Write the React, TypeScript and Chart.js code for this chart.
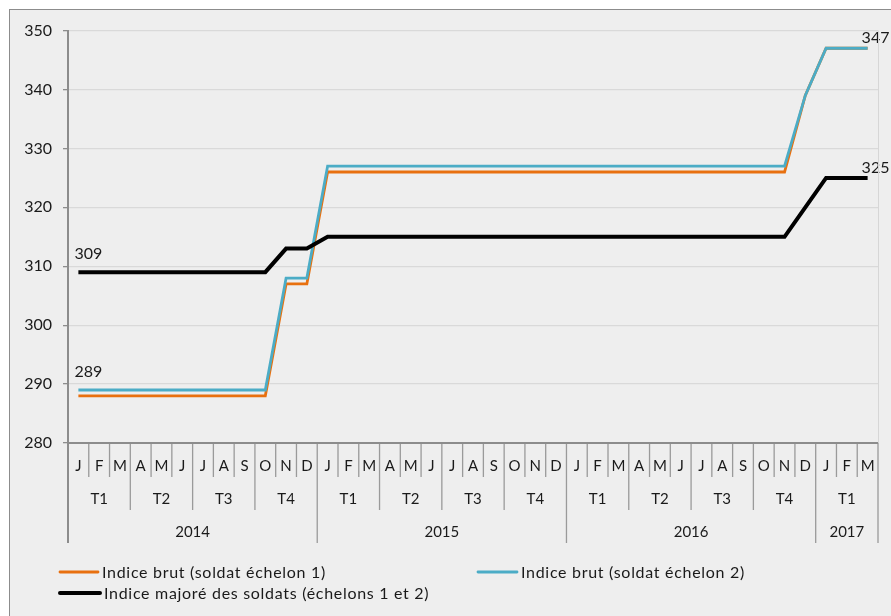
import React, { useEffect, useRef } from "react";
import { Chart, registerables } from "chart.js";

Chart.register(...registerables);

const months = [
  "J", "F", "M", "A", "M", "J", "J", "A", "S", "O", "N", "D",
  "J", "F", "M", "A", "M", "J", "J", "A", "S", "O", "N", "D",
  "J", "F", "M", "A", "M", "J", "J", "A", "S", "O", "N", "D",
  "J", "F", "M",
];
const quarterLabels = ["T1", "T2", "T3", "T4", "T1", "T2", "T3", "T4", "T1", "T2", "T3", "T4", "T1"];
const quarterSizes = [3, 3, 3, 3, 3, 3, 3, 3, 3, 3, 3, 3, 3];
const yearLabels = ["2014", "2015", "2016", "2017"];
const yearSizes = [12, 12, 12, 3];

const brut1 = [
  288, 288, 288, 288, 288, 288, 288, 288, 288, 288, 307, 307,
  326, 326, 326, 326, 326, 326, 326, 326, 326, 326, 326, 326,
  326, 326, 326, 326, 326, 326, 326, 326, 326, 326, 326, 339,
  347, 347, 347,
];
const brut2 = [
  289, 289, 289, 289, 289, 289, 289, 289, 289, 289, 308, 308,
  327, 327, 327, 327, 327, 327, 327, 327, 327, 327, 327, 327,
  327, 327, 327, 327, 327, 327, 327, 327, 327, 327, 327, 339,
  347, 347, 347,
];
const majore = [
  309, 309, 309, 309, 309, 309, 309, 309, 309, 309, 313, 313,
  315, 315, 315, 315, 315, 315, 315, 315, 315, 315, 315, 315,
  315, 315, 315, 315, 315, 315, 315, 315, 315, 315, 315, 320,
  325, 325, 325,
];
const seriesNames = [
  "Indice brut (soldat échelon 1)",
  "Indice brut (soldat échelon 2)",
  "Indice majoré des soldats (échelons 1 et 2)",
];
const yTicks = [280, 290, 300, 310, 320, 330, 340, 350];
// which points carry a value label: [series index, point index]
const labelledPoints: [number, number][] = [
  [1, 0],
  [2, 0],
  [1, 38],
  [2, 38],
];

const FONT = "Lato, 'Open Sans', sans-serif";
const COLORS = ["#E8700F", "#4BACC6", "#000000"];
const WIDTHS = [2.8, 2.8, 4];

const axisPlugin = {
  id: "multiAxis",
  afterDatasetsDraw(chart: any) {
    const ctx = chart.ctx as CanvasRenderingContext2D;
    const area = chart.chartArea;
    const xs = chart.scales.x;
    const n = months.length;
    const w = (area.right - area.left) / n;
    ctx.save();

    // value labels
    ctx.fillStyle = "#1a1a1a";
    ctx.font = `16px ${FONT}`;
    ctx.textBaseline = "middle";
    ctx.textAlign = "left";
    labelledPoints.forEach(([s, i]) => {
      const meta = chart.getDatasetMeta(s);
      const pt = meta.data[i];
      if (!pt) return;
      const first = i === 0;
      const val = chart.data.datasets[s].data[i];
      ctx.fillText(String(val), pt.x - (first ? 4 : 6), pt.y - (first ? 18 : 10));
    });

    // right light border of plot
    ctx.strokeStyle = "#d6d6d6";
    ctx.lineWidth = 1;
    ctx.beginPath();
    ctx.moveTo(Math.round(area.right) + 0.5, area.top);
    ctx.lineTo(Math.round(area.right) + 0.5, area.bottom);
    ctx.stroke();

    // boundaries
    const qB = new Set<number>();
    let acc = 0;
    qB.add(0);
    quarterSizes.forEach((q) => { acc += q; qB.add(acc); });
    const yB = new Set<number>();
    acc = 0;
    yB.add(0);
    yearSizes.forEach((q) => { acc += q; yB.add(acc); });

    ctx.strokeStyle = "#9a9a9a";
    ctx.lineWidth = 1.3;
    for (let i = 0; i <= n; i++) {
      const x = area.left + i * w;
      const depth = yB.has(i) ? 100 : qB.has(i) ? 67 : 34;
      ctx.beginPath();
      ctx.moveTo(x, area.bottom);
      ctx.lineTo(x, area.bottom + depth);
      ctx.stroke();
    }
    // axis line
    ctx.strokeStyle = "#8c8c8c";
    ctx.lineWidth = 2;
    ctx.beginPath();
    ctx.moveTo(area.left, area.bottom);
    ctx.lineTo(area.right, area.bottom);
    ctx.stroke();
    ctx.beginPath();
    ctx.moveTo(area.left, area.top);
    ctx.lineTo(area.left, area.bottom + 100);
    ctx.stroke();

    // labels
    ctx.fillStyle = "#1a1a1a";
    ctx.textAlign = "center";
    ctx.textBaseline = "middle";
    ctx.font = `15px ${FONT}`;
    months.forEach((m, i) => {
      ctx.fillText(m, xs.getPixelForValue(i), area.bottom + 23);
    });
    let start = 0;
    quarterSizes.forEach((q, k) => {
      const cx = area.left + (start + q / 2) * w;
      ctx.fillText(quarterLabels[k], cx, area.bottom + 56);
      start += q;
    });
    start = 0;
    yearSizes.forEach((q, k) => {
      const cx = area.left + (start + q / 2) * w;
      ctx.fillText(yearLabels[k], cx, area.bottom + 89);
      start += q;
    });

    // legend
    ctx.font = `16px ${FONT}`;
    (ctx as any).letterSpacing = "0.7px";
    ctx.textAlign = "left";
    const legendItems = [
      { x: 50, y: area.bottom + 129, len: 38 },
      { x: 468, y: area.bottom + 129, len: 39 },
      { x: 50, y: area.bottom + 150, len: 40 },
    ];
    legendItems.forEach((it, k) => {
      ctx.strokeStyle = COLORS[k];
      ctx.lineWidth = WIDTHS[k];
      ctx.lineCap = "round";
      ctx.beginPath();
      ctx.moveTo(it.x, it.y);
      ctx.lineTo(it.x + it.len, it.y);
      ctx.stroke();
      ctx.fillText(seriesNames[k], it.x + it.len + 4, it.y + 1);
    });
    (ctx as any).letterSpacing = "0px";
    ctx.restore();
  },
};

export default function App() {
  const ref = useRef<HTMLCanvasElement | null>(null);
  useEffect(() => {
    document.body.style.margin = "0";
    document.body.style.overflow = "hidden";
    const canvas = ref.current;
    if (!canvas) return;
    const series = [brut1, brut2, majore];
    const chart = new Chart(canvas, {
      type: "line",
      data: {
        labels: months,
        datasets: series.map((d, k) => ({
          label: seriesNames[k],
          data: d,
          borderColor: COLORS[k],
          backgroundColor: COLORS[k],
          borderWidth: WIDTHS[k],
          pointRadius: 0,
          tension: 0,
          fill: false,
          order: 3 - k,
        })),
      },
      options: {
        animation: false,
        responsive: false,
        devicePixelRatio: 1,
        layout: { padding: { top: 18, right: 13, left: 0, bottom: 0 } },
        plugins: { legend: { display: false }, tooltip: { enabled: false } },
        scales: {
          x: {
            type: "category",
            offset: true,
            grid: { display: false },
            border: { display: false },
            ticks: { display: false },
            afterFit(scale: any) {
              scale.height = 173;
            },
          },
          y: {
            min: 280,
            max: 350,
            afterBuildTicks(scale: any) {
              scale.ticks = yTicks.map((v) => ({ value: v }));
            },
            grid: { color: "#d9d9d9", lineWidth: 1.3, tickLength: 5, tickColor: "#8c8c8c" },
            border: { display: true, color: "#8c8c8c", width: 2 },
            ticks: {
              padding: 11,
              color: "#1a1a1a",
              font: { family: FONT, size: 16 },
            },
            afterFit(scale: any) {
              scale.width = 58;
            },
          },
        },
      },
      plugins: [axisPlugin],
    });
    return () => chart.destroy();
  }, []);

  return (
    <div style={{ padding: "9px 0 0 9px" }}>
      <div
        style={{
          width: 881,
          height: 606,
          borderLeft: "1px solid #8c8c8c",
          borderTop: "1px solid #8c8c8c",
          background: "#eeeeee",
        }}
      >
        <canvas ref={ref} width={881} height={606} style={{ width: 881, height: 606, display: "block" }} />
      </div>
    </div>
  );
}
